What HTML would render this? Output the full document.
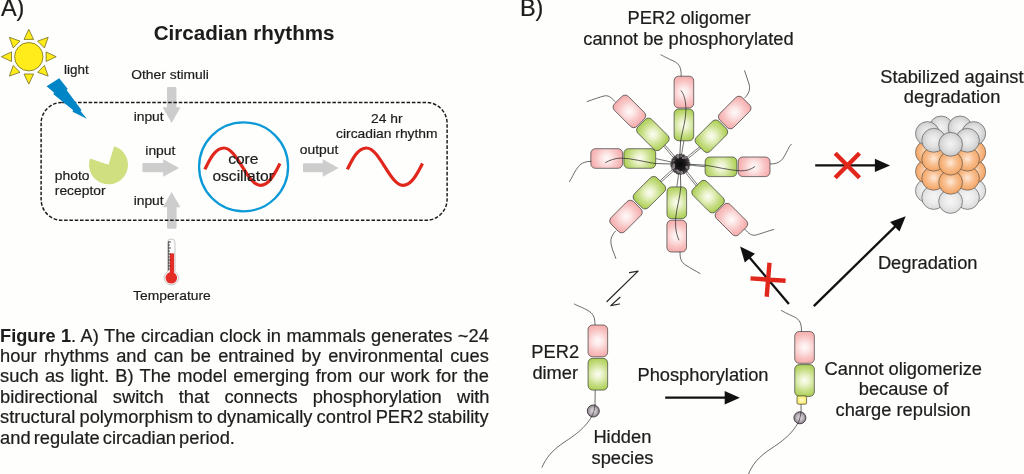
<!DOCTYPE html>
<html lang="en"><head><meta charset="utf-8"><title>Figure 1</title>
<style>
html,body{margin:0;padding:0;background:#fefefd;}
body{width:1024px;height:474px;overflow:hidden;}
text{stroke:#1d1d1d;stroke-width:0.22px;stroke-linejoin:round}
.b{stroke-width:0.06px}
.s{stroke-width:0.2px}
svg{display:block;will-change:transform;font-family:"Liberation Sans",sans-serif;}
</style></head><body>
<svg width="1024" height="474" viewBox="0 0 1024 474">
<rect width="1024" height="474" fill="#fefefd"/>

<defs>
<radialGradient id="gp" gradientUnits="userSpaceOnUse" cx="0" cy="0" r="17.5">
<stop offset="0" stop-color="#fffafa"/><stop offset="0.28" stop-color="#fde6e6"/><stop offset="0.6" stop-color="#f9c6c6"/><stop offset="1" stop-color="#f5a6a6"/>
</radialGradient>
<radialGradient id="gg" gradientUnits="userSpaceOnUse" cx="0" cy="0" r="17.5">
<stop offset="0" stop-color="#fcfdf4"/><stop offset="0.28" stop-color="#e9f2c8"/><stop offset="0.6" stop-color="#c9df8a"/><stop offset="1" stop-color="#a6cb49"/>
</radialGradient>
<radialGradient id="gy" cx="50%" cy="50%" r="65%">
<stop offset="0" stop-color="#fffbd0"/><stop offset="1" stop-color="#fbe94a"/>
</radialGradient>
<radialGradient id="bgr" cx="50%" cy="48%" r="55%">
<stop offset="0" stop-color="#f3f3f3"/><stop offset="0.5" stop-color="#e2e2e2"/><stop offset="1" stop-color="#c6c6c6"/>
</radialGradient>
<radialGradient id="bgr2" cx="50%" cy="48%" r="55%">
<stop offset="0" stop-color="#f6f6f6"/><stop offset="0.5" stop-color="#ebebeb"/><stop offset="1" stop-color="#d8d8d8"/>
</radialGradient>
<radialGradient id="bor" cx="50%" cy="48%" r="55%">
<stop offset="0" stop-color="#fee9d8"/><stop offset="0.45" stop-color="#f9c193"/><stop offset="1" stop-color="#f2a05c"/>
</radialGradient>
<radialGradient id="ghub" cx="50%" cy="50%" r="50%">
<stop offset="0" stop-color="#0a0a0a"/><stop offset="0.55" stop-color="#1a191a"/><stop offset="1" stop-color="#544e52"/>
</radialGradient>
<radialGradient id="gball" cx="50%" cy="50%" r="50%">
<stop offset="0" stop-color="#e6e2e6"/><stop offset="0.55" stop-color="#bdb6bd"/><stop offset="1" stop-color="#857e85"/>
</radialGradient>
</defs>
<g fill="#ffec1a" stroke="#615c14" stroke-width="0.7" stroke-linejoin="round"><polygon points="28.8,29.3 33.6,39.4 24.0,39.4"/><polygon points="48.2,37.3 44.4,47.9 37.6,41.1"/><polygon points="56.2,56.7 46.1,61.5 46.1,51.9"/><polygon points="48.2,76.1 37.6,72.3 44.4,65.5"/><polygon points="28.8,84.1 24.0,74.0 33.6,74.0"/><polygon points="9.4,76.1 13.2,65.5 20.0,72.3"/><polygon points="1.4,56.7 11.5,51.9 11.5,61.5"/><polygon points="9.4,37.3 20.0,41.1 13.2,47.9"/><circle cx="28.8" cy="56.7" r="14.2"/></g>
<g fill="#cdcdcd">
<path d="M167,88 Q167,87 168,87 L175.4,87 Q176.4,87 176.4,88 L176.4,107.3 L180.5,107.3 L171.6,123 L162.6,107.3 L167,107.3 Z"/>
<path d="M143.4,163 L163.2,163 L163.2,159.2 L179.1,167.9 L163.2,176.7 L163.2,172.3 L143.4,172.3 Q142.4,172.3 142.4,171.3 L142.4,164 Q142.4,163 143.4,163 Z"/>
<path d="M304,163.3 L322.7,163.3 L322.7,159.2 L338.6,167.9 L322.7,176.7 L322.7,172.3 L304,172.3 Q303,172.3 303,171.3 L303,164.3 Q303,163.3 304,163.3 Z"/>
<path d="M171.6,192 L180.5,207.2 L176.6,207.2 L176.6,227.7 Q176.6,228.7 175.6,228.7 L168.1,228.7 Q167.1,228.7 167.1,227.7 L167.1,207.2 L163,207.2 Z"/>
</g>
<rect x="41.1" y="102.4" width="406" height="117.9" rx="21" ry="21" fill="none" stroke="#1a1a1a" stroke-width="1.45" stroke-dasharray="3.55 1.75"/>
<polygon fill="#0085c7" points="46.6,86.2 59.2,78.2 67.8,89 66.6,90 81.6,110.3 80.5,111.1 86.8,118.7 72.5,111.8 73.2,110.3 53.2,94.1 54.2,92.8"/>
<path fill="#d0df80" d="M108.5,164.8 L90.06,158.45 A19.5,19.5 0 1 0 114.20,146.15 Z"/>
<circle cx="243.6" cy="166.8" r="44.5" fill="none" stroke="#0b9ad7" stroke-width="2.3"/>
<path d="M204.9,169.4 C208.8,161.5 214.6,148 223.9,148 C237,148 247.4,185.3 260.5,185.3 C269.6,185.3 275.8,171.6 280,163.5" fill="none" stroke="#e1261c" stroke-width="3.2"/>
<path d="M204.9,169.4 C208.8,161.5 214.6,148 223.9,148 C237,148 247.4,185.3 260.5,185.3 C269.6,185.3 275.8,171.6 280,163.5" fill="none" stroke="#e1261c" stroke-width="3.2" transform="translate(142.5,0)"/>
<g>
<path d="M167.6,242.6 A3.7,3.7 0 0 1 175,242.6 L175,271.6 A7.2,7.2 0 1 1 167.6,271.6 Z" fill="#fbfbfb" stroke="#b0b0b0" stroke-width="0.7"/>
<rect x="169.8" y="253.4" width="4.3" height="20" fill="#e32d26"/>
<circle cx="171.3" cy="277.8" r="5.8" fill="#e32d26"/>
<path d="M168.2,242 h2.6 M168.2,245 h1.6 M168.2,248 h2.6 M168.2,251 h1.6 M168.2,254 h2.6 M168.2,257 h1.6 M168.2,260 h2.6 M168.2,263 h1.6 M168.2,266 h2.6 M168.2,269 h1.6" stroke="#222" stroke-width="0.9" fill="none"/>
<path d="M168.6,241.5 V270.5" stroke="#333" stroke-width="0.7"/>
</g>
<g fill="#1d1d1d">
<text x="0.90" y="16.20" font-size="23.5" text-anchor="start">A)</text>
<text font-weight="700" class="b" transform="translate(244.10,39.50) scale(1.0148,1)" font-size="20.3" text-anchor="middle">Circadian rhythms</text>
<text class="s" transform="translate(76.30,74.20) scale(1.0500,1)" font-size="12.8" text-anchor="middle">light</text>
<text class="s" transform="translate(170.10,78.70) scale(1.0820,1)" font-size="12.8" text-anchor="middle">Other stimuli</text>
<text class="s" transform="translate(148.65,120.50) scale(1.0820,1)" font-size="12.8" text-anchor="middle">input</text>
<text class="s" transform="translate(160.35,155.20) scale(1.0820,1)" font-size="12.8" text-anchor="middle">input</text>
<text class="s" transform="translate(148.65,204.60) scale(1.0820,1)" font-size="12.8" text-anchor="middle">input</text>
<text class="s" transform="translate(54.80,180.00) scale(1.0820,1)" font-size="12.8" text-anchor="start">photo</text>
<text class="s" transform="translate(54.80,195.30) scale(1.0820,1)" font-size="12.8" text-anchor="start">receptor</text>
<text transform="translate(243.30,164.00) scale(1.0830,1)" font-size="14.4" text-anchor="middle">core</text>
<text transform="translate(243.15,181.10) scale(1.0830,1)" font-size="14.4" text-anchor="middle">oscillator</text>
<text class="s" transform="translate(319.10,154.40) scale(1.0820,1)" font-size="12.8" text-anchor="middle">output</text>
<text class="s" transform="translate(386.80,123.00) scale(1.0820,1)" font-size="12.8" text-anchor="middle">24 hr</text>
<text class="s" transform="translate(386.80,137.80) scale(1.0820,1)" font-size="12.8" text-anchor="middle">circadian rhythm</text>
<text class="s" transform="translate(171.90,299.60) scale(1.0820,1)" font-size="12.8" text-anchor="middle">Temperature</text>
</g>
<path d="M683.9,140.4 Q682.0,152.2 680.0,164.0" fill="none" stroke="#4a4a4a" stroke-width="0.75"/>
<path d="M701.1,147.8 Q691.2,156.5 680.3,164.3" fill="none" stroke="#4a4a4a" stroke-width="0.75"/>
<path d="M699.9,146.7 Q689.4,154.7 679.7,163.7" fill="none" stroke="#4a4a4a" stroke-width="0.75"/>
<path d="M705.5,166.8 Q692.8,165.4 680.0,164.0" fill="none" stroke="#4a4a4a" stroke-width="0.75"/>
<path d="M696.5,186.3 Q687.6,175.8 679.7,164.3" fill="none" stroke="#4a4a4a" stroke-width="0.75"/>
<path d="M697.7,185.1 Q689.4,173.9 680.3,163.7" fill="none" stroke="#4a4a4a" stroke-width="0.75"/>
<path d="M676.8,187.3 Q678.4,175.7 680.0,164.0" fill="none" stroke="#4a4a4a" stroke-width="0.75"/>
<path d="M659.7,181.1 Q669.2,171.9 679.7,163.7" fill="none" stroke="#4a4a4a" stroke-width="0.75"/>
<path d="M660.9,182.2 Q671.0,173.7 680.3,164.3" fill="none" stroke="#4a4a4a" stroke-width="0.75"/>
<path d="M655.3,158.5 Q667.6,161.2 680.0,164.0" fill="none" stroke="#4a4a4a" stroke-width="0.75"/>
<path d="M664.6,144.6 Q672.9,153.7 680.3,163.7" fill="none" stroke="#4a4a4a" stroke-width="0.75"/>
<path d="M663.4,145.8 Q671.1,155.5 679.7,164.3" fill="none" stroke="#4a4a4a" stroke-width="0.75"/>
<rect x="-9.8" y="-15.9" width="19.6" height="31.8" rx="4.6" ry="4.6" fill="url(#gp)" stroke="#3c3c3c" stroke-width="0.7" transform="translate(683.9,92.1) rotate(0)"/>
<rect x="-9.8" y="-15.9" width="19.6" height="31.8" rx="4.6" ry="4.6" fill="url(#gg)" stroke="#3c3c3c" stroke-width="0.7" transform="translate(683.9,124.9) rotate(0)"/>
<rect x="-9.8" y="-15.9" width="19.6" height="31.8" rx="4.6" ry="4.6" fill="url(#gp)" stroke="#3c3c3c" stroke-width="0.7" transform="translate(734.7,112.5) rotate(45)"/>
<rect x="-9.8" y="-15.9" width="19.6" height="31.8" rx="4.6" ry="4.6" fill="url(#gg)" stroke="#3c3c3c" stroke-width="0.7" transform="translate(711.4,136.2) rotate(45)"/>
<rect x="-9.8" y="-15.9" width="19.6" height="31.8" rx="4.6" ry="4.6" fill="url(#gp)" stroke="#3c3c3c" stroke-width="0.7" transform="translate(754.1,166.8) rotate(90)"/>
<rect x="-9.8" y="-15.9" width="19.6" height="31.8" rx="4.6" ry="4.6" fill="url(#gg)" stroke="#3c3c3c" stroke-width="0.7" transform="translate(721.0,166.8) rotate(90)"/>
<rect x="-9.8" y="-15.9" width="19.6" height="31.8" rx="4.6" ry="4.6" fill="url(#gp)" stroke="#3c3c3c" stroke-width="0.7" transform="translate(731.4,219.6) rotate(135)"/>
<rect x="-9.8" y="-15.9" width="19.6" height="31.8" rx="4.6" ry="4.6" fill="url(#gg)" stroke="#3c3c3c" stroke-width="0.7" transform="translate(708.1,196.6) rotate(135)"/>
<rect x="-9.8" y="-15.9" width="19.6" height="31.8" rx="4.6" ry="4.6" fill="url(#gp)" stroke="#3c3c3c" stroke-width="0.7" transform="translate(676.7,236.1) rotate(0)"/>
<rect x="-9.8" y="-15.9" width="19.6" height="31.8" rx="4.6" ry="4.6" fill="url(#gg)" stroke="#3c3c3c" stroke-width="0.7" transform="translate(676.8,202.8) rotate(0)"/>
<rect x="-9.8" y="-15.9" width="19.6" height="31.8" rx="4.6" ry="4.6" fill="url(#gp)" stroke="#3c3c3c" stroke-width="0.7" transform="translate(626.0,216.5) rotate(45)"/>
<rect x="-9.8" y="-15.9" width="19.6" height="31.8" rx="4.6" ry="4.6" fill="url(#gg)" stroke="#3c3c3c" stroke-width="0.7" transform="translate(649.4,192.7) rotate(45)"/>
<rect x="-9.8" y="-15.9" width="19.6" height="31.8" rx="4.6" ry="4.6" fill="url(#gp)" stroke="#3c3c3c" stroke-width="0.7" transform="translate(606.7,158.5) rotate(90)"/>
<rect x="-9.8" y="-15.9" width="19.6" height="31.8" rx="4.6" ry="4.6" fill="url(#gg)" stroke="#3c3c3c" stroke-width="0.7" transform="translate(639.8,158.5) rotate(90)"/>
<rect x="-9.8" y="-15.9" width="19.6" height="31.8" rx="4.6" ry="4.6" fill="url(#gp)" stroke="#3c3c3c" stroke-width="0.7" transform="translate(629.4,111.4) rotate(135)"/>
<rect x="-9.8" y="-15.9" width="19.6" height="31.8" rx="4.6" ry="4.6" fill="url(#gg)" stroke="#3c3c3c" stroke-width="0.7" transform="translate(652.9,134.4) rotate(135)"/>
<path d="M681.1,90.7 C684,94 685.6,100 686,109 C686,120 682.5,130 680.6,141 L679.8,156" fill="none" stroke="#2e2e2e" stroke-width="0.75" stroke-linecap="round"/>
<path d="M754.8,166.7 C751,169.5 746,171 740.6,170.8 C730,170.5 715,166.5 705,165.2 L689,164.3" fill="none" stroke="#2e2e2e" stroke-width="0.75" stroke-linecap="round"/>
<path d="M680.3,172 L680.8,187 C680,198 676.5,208 675.7,218 C675,228 676.5,235 678.9,239.9" fill="none" stroke="#2e2e2e" stroke-width="0.75" stroke-linecap="round"/>
<path d="M605.6,162.5 C610,160 615,158.3 620.8,158.1 C632,158.3 645,162 655,163.5 L671,164" fill="none" stroke="#2e2e2e" stroke-width="0.75" stroke-linecap="round"/>
<path d="M681.2,76 C681.2,68 680,64 673,60.8 S665,57 661,54.8" fill="none" stroke="#3a3a3a" stroke-width="0.75" stroke-linecap="round"/>
<path d="M744.6,98 C749,94 750.5,89 749,84 S746,75 744.6,70.8" fill="none" stroke="#3a3a3a" stroke-width="0.75" stroke-linecap="round"/>
<path d="M770.4,163.9 C780,164.5 783,159 786.2,152.8 S789,147 791.3,144.3" fill="none" stroke="#3a3a3a" stroke-width="0.75" stroke-linecap="round"/>
<path d="M744.9,229.2 C749,234 752,236 756,235 S768,231 773.7,229.5" fill="none" stroke="#3a3a3a" stroke-width="0.75" stroke-linecap="round"/>
<path d="M680,252 C680,259 681,262 686,265.3 S695,270.5 700,273.5" fill="none" stroke="#3a3a3a" stroke-width="0.75" stroke-linecap="round"/>
<path d="M615.6,231 C611,236 610,240 611.5,246 S614.5,254 615.8,258.4" fill="none" stroke="#3a3a3a" stroke-width="0.75" stroke-linecap="round"/>
<path d="M591,161.3 C581,161.5 579,166 576.5,169.2 S572,178 569.5,181.6" fill="none" stroke="#3a3a3a" stroke-width="0.75" stroke-linecap="round"/>
<path d="M615,101.5 C611,97 608,95 604,96 S593,99.5 587.2,101.5" fill="none" stroke="#3a3a3a" stroke-width="0.75" stroke-linecap="round"/>
<ellipse cx="680.3" cy="164.3" rx="9.6" ry="10.2" fill="url(#ghub)"/>
<g fill="#a59ca3" opacity="0.75"><circle cx="677.3" cy="170.5" r="1.2"/><circle cx="687.2" cy="167.9" r="1.0"/><circle cx="687.4" cy="167.2" r="0.7"/><circle cx="674.5" cy="167.0" r="0.8"/><circle cx="672.7" cy="168.4" r="0.8"/><circle cx="681.6" cy="172.5" r="1.4"/><circle cx="673.8" cy="160.7" r="0.7"/><circle cx="685.2" cy="158.0" r="0.9"/><circle cx="683.0" cy="157.9" r="1.1"/><circle cx="674.9" cy="170.1" r="0.7"/><circle cx="686.6" cy="166.9" r="1.2"/><circle cx="673.9" cy="167.6" r="1.1"/><circle cx="673.6" cy="166.4" r="1.3"/><circle cx="678.1" cy="157.4" r="1.1"/><circle cx="686.8" cy="157.5" r="0.8"/><circle cx="673.1" cy="168.6" r="0.8"/><circle cx="674.0" cy="164.8" r="1.2"/><circle cx="681.0" cy="156.1" r="0.9"/><circle cx="677.6" cy="156.5" r="1.0"/><circle cx="684.9" cy="156.6" r="0.7"/><circle cx="677.9" cy="156.3" r="1.3"/><circle cx="678.7" cy="171.8" r="1.2"/></g>
<ellipse cx="680.3" cy="164.3" rx="9.6" ry="10.2" fill="none" stroke="#2a2628" stroke-width="0.6" stroke-dasharray="2.2 1.3"/>
<path d="M607,301.5 L638.1,271.1 L629.5,272.7" fill="none" stroke="#2a2a2a" stroke-width="1.25" stroke-linecap="round" stroke-linejoin="round"/>
<path d="M620,297.3 L610.8,305.6 L619.4,304" fill="none" stroke="#2a2a2a" stroke-width="1.25" stroke-linecap="round" stroke-linejoin="round"/>
<path d="M595,325.3 C595,317 593.5,313.5 587,310 S579,306.5 574.3,304" fill="none" stroke="#3a3a3a" stroke-width="0.75" stroke-linecap="round"/>
<path d="M595.2,390 L595,405 C594,420 580,432 566,441 S546,458 542,467.2" fill="none" stroke="#3a3a3a" stroke-width="0.75" stroke-linecap="round"/>
<rect x="-9.8" y="-15.9" width="19.6" height="31.8" rx="4.6" ry="4.6" fill="url(#gp)" stroke="#3c3c3c" stroke-width="0.7" transform="translate(597.85,340.9) rotate(0)"/>
<rect x="-9.8" y="-15.9" width="19.6" height="31.8" rx="4.6" ry="4.6" fill="url(#gg)" stroke="#3c3c3c" stroke-width="0.7" transform="translate(597.85,374.2) rotate(0)"/>
<circle cx="593.3" cy="411" r="6.0" fill="url(#gball)" stroke="#3c383c" stroke-width="0.9"/>
<path d="M595.1,405 C594.6,410 593,414 591.5,417" fill="none" stroke="#3a3a3a" stroke-width="0.75" stroke-linecap="round"/>
<path d="M801.5,331.5 C801.5,323 800,319.5 793.5,316.5 S786,313 781.3,310.5" fill="none" stroke="#3a3a3a" stroke-width="0.75" stroke-linecap="round"/>
<path d="M801.1,404 L801,412 C800,427 786,439 772,448 S752,465 748.3,474.5" fill="none" stroke="#3a3a3a" stroke-width="0.75" stroke-linecap="round"/>
<rect x="-9.8" y="-15.9" width="19.6" height="31.8" rx="4.6" ry="4.6" fill="url(#gp)" stroke="#3c3c3c" stroke-width="0.7" transform="translate(804.55,347.4) rotate(0)"/>
<rect x="-9.8" y="-15.9" width="19.6" height="31.8" rx="4.6" ry="4.6" fill="url(#gg)" stroke="#3c3c3c" stroke-width="0.7" transform="translate(804.55,380.5) rotate(0)"/>
<rect x="797" y="395.9" width="9.6" height="8.3" rx="1.4" fill="url(#gy)" stroke="#3c3c3c" stroke-width="0.7"/>
<circle cx="799.9" cy="417.8" r="6.0" fill="url(#gball)" stroke="#3c383c" stroke-width="0.9"/>
<path d="M801,412 C800.6,416 799.5,420 798,423.5" fill="none" stroke="#3a3a3a" stroke-width="0.75" stroke-linecap="round"/>
<line x1="665.2" y1="397.7" x2="725.7" y2="397.7" stroke="#111" stroke-width="2.3"/>
<polygon fill="#111" points="739.9,397.7 724.7,404.4 724.7,391.0"/>
<line x1="815.2" y1="165.4" x2="875.9" y2="165.4" stroke="#111" stroke-width="2.3"/>
<polygon fill="#111" points="890.1,165.4 874.9,172.1 874.9,158.7"/>
<line x1="788.9" y1="303.9" x2="749.3" y2="257.3" stroke="#111" stroke-width="2.3"/>
<polygon fill="#111" points="740.1,246.5 755.0,253.7 744.8,262.4"/>
<line x1="813.8" y1="306.1" x2="895.5" y2="226.1" stroke="#111" stroke-width="2.3"/>
<polygon fill="#111" points="905.7,216.2 899.5,231.6 890.1,222.0"/>
<path d="M835.2,153.2 L859.5,177.8 M859.5,153.2 L835.2,177.8" stroke="#e1261c" stroke-width="4.4" fill="none"/>
<path d="M750.5,278.4 L785.6,280.8 M769.5,262.7 L766.7,296.8" stroke="#e1261c" stroke-width="4.4" fill="none"/>
<circle cx="941.1" cy="185.1" r="11.9" fill="url(#bgr2)" stroke="#4a4a4a" stroke-width="0.6"/>
<circle cx="960.1" cy="185.1" r="11.9" fill="url(#bgr2)" stroke="#4a4a4a" stroke-width="0.6"/>
<circle cx="927.4" cy="190.7" r="11.9" fill="url(#bgr2)" stroke="#4a4a4a" stroke-width="0.6"/>
<circle cx="973.8" cy="190.7" r="11.9" fill="url(#bgr2)" stroke="#4a4a4a" stroke-width="0.6"/>
<circle cx="933.7" cy="197.5" r="11.9" fill="url(#bgr2)" stroke="#4a4a4a" stroke-width="0.6"/>
<circle cx="967.5" cy="197.5" r="11.9" fill="url(#bgr2)" stroke="#4a4a4a" stroke-width="0.6"/>
<circle cx="950.6" cy="201.5" r="11.9" fill="url(#bgr2)" stroke="#4a4a4a" stroke-width="0.6"/>
<circle cx="941.1" cy="165.9" r="11.9" fill="url(#bor)" stroke="#4a4a4a" stroke-width="0.6"/>
<circle cx="960.1" cy="165.9" r="11.9" fill="url(#bor)" stroke="#4a4a4a" stroke-width="0.6"/>
<circle cx="927.4" cy="171.5" r="11.9" fill="url(#bor)" stroke="#4a4a4a" stroke-width="0.6"/>
<circle cx="973.8" cy="171.5" r="11.9" fill="url(#bor)" stroke="#4a4a4a" stroke-width="0.6"/>
<circle cx="933.7" cy="178.3" r="11.9" fill="url(#bor)" stroke="#4a4a4a" stroke-width="0.6"/>
<circle cx="967.5" cy="178.3" r="11.9" fill="url(#bor)" stroke="#4a4a4a" stroke-width="0.6"/>
<circle cx="950.6" cy="182.3" r="11.9" fill="url(#bor)" stroke="#4a4a4a" stroke-width="0.6"/>
<circle cx="941.1" cy="146.8" r="11.9" fill="url(#bor)" stroke="#4a4a4a" stroke-width="0.6"/>
<circle cx="960.1" cy="146.8" r="11.9" fill="url(#bor)" stroke="#4a4a4a" stroke-width="0.6"/>
<circle cx="927.4" cy="152.4" r="11.9" fill="url(#bor)" stroke="#4a4a4a" stroke-width="0.6"/>
<circle cx="973.8" cy="152.4" r="11.9" fill="url(#bor)" stroke="#4a4a4a" stroke-width="0.6"/>
<circle cx="933.7" cy="159.2" r="11.9" fill="url(#bor)" stroke="#4a4a4a" stroke-width="0.6"/>
<circle cx="967.5" cy="159.2" r="11.9" fill="url(#bor)" stroke="#4a4a4a" stroke-width="0.6"/>
<circle cx="950.6" cy="163.2" r="11.9" fill="url(#bor)" stroke="#4a4a4a" stroke-width="0.6"/>
<circle cx="941.1" cy="127.9" r="11.9" fill="url(#bgr)" stroke="#4a4a4a" stroke-width="0.6"/>
<circle cx="960.1" cy="127.9" r="11.9" fill="url(#bgr)" stroke="#4a4a4a" stroke-width="0.6"/>
<circle cx="927.4" cy="133.5" r="11.9" fill="url(#bgr)" stroke="#4a4a4a" stroke-width="0.6"/>
<circle cx="973.8" cy="133.5" r="11.9" fill="url(#bgr)" stroke="#4a4a4a" stroke-width="0.6"/>
<circle cx="933.7" cy="140.3" r="11.9" fill="url(#bgr)" stroke="#4a4a4a" stroke-width="0.6"/>
<circle cx="967.5" cy="140.3" r="11.9" fill="url(#bgr)" stroke="#4a4a4a" stroke-width="0.6"/>
<circle cx="950.6" cy="144.3" r="11.9" fill="url(#bgr)" stroke="#4a4a4a" stroke-width="0.6"/>
<g fill="#1d1d1d">
<text x="519.90" y="16.20" font-size="23.5" text-anchor="start">B)</text>
<text x="689.10" y="23.90" font-size="18.3" text-anchor="middle">PER2 oligomer</text>
<text x="688.45" y="44.80" font-size="18.3" text-anchor="middle">cannot be phosphorylated</text>
<text x="951.90" y="82.60" font-size="18.3" text-anchor="middle">Stabilized against</text>
<text x="952.10" y="102.70" font-size="18.3" text-anchor="middle">degradation</text>
<text x="927.70" y="268.80" font-size="18.3" text-anchor="middle">Degradation</text>
<text x="531.30" y="358.30" font-size="18.3" text-anchor="start">PER2</text>
<text x="532.40" y="378.50" font-size="18.3" text-anchor="start">dimer</text>
<text x="622.40" y="443.20" font-size="18.3" text-anchor="middle">Hidden</text>
<text x="622.50" y="463.70" font-size="18.3" text-anchor="middle">species</text>
<text x="703.00" y="380.80" font-size="18.3" text-anchor="middle">Phosphorylation</text>
<text x="903.30" y="374.60" font-size="18.3" text-anchor="middle">Cannot oligomerize</text>
<text x="903.50" y="394.90" font-size="18.3" text-anchor="middle">because of</text>
<text x="903.10" y="416.00" font-size="18.3" text-anchor="middle">charge repulsion</text>
</g>
<g fill="#1d1d1d"><text x="0.1" y="341.5" font-size="18.3" word-spacing="0.382" style="word-spacing:0.382px" xml:space="preserve"><tspan font-weight="700" font-size="18.15" class="b">Figure 1</tspan>. A) The circadian clock in mammals generates ~24</text>
<text x="0.1" y="361.6" font-size="18.3" word-spacing="2.148" style="word-spacing:2.148px" xml:space="preserve">hour rhythms and can be entrained by environmental cues</text>
<text x="0.1" y="382.4" font-size="18.3" word-spacing="1.147" style="word-spacing:1.147px" xml:space="preserve">such as light. B) The model emerging from our work for the</text>
<text x="0.1" y="402.8" font-size="18.3" word-spacing="10.071" style="word-spacing:10.071px" xml:space="preserve">bidirectional switch that connects phosphorylation with</text>
<text x="0.1" y="423.3" font-size="18.3" word-spacing="-0.880" style="word-spacing:-0.880px" xml:space="preserve">structural polymorphism to dynamically control PER2 stability</text>
<text x="0.1" y="443.9" font-size="18.3" word-spacing="-2.003" style="word-spacing:-2.003px" xml:space="preserve">and regulate circadian period.</text></g>
</svg>
</body></html>
